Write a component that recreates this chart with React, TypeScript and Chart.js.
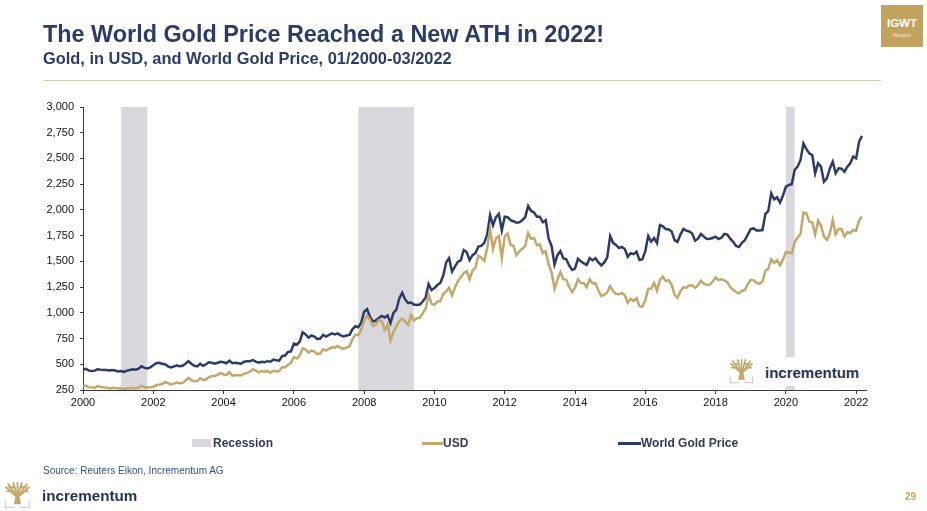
import React, { useEffect, useRef } from 'react';
import { Chart, registerables } from 'chart.js';

Chart.register(...registerables);

// ---------- DATA ----------
const START_YEAR = 2000;

// Gold price in USD, month-end, 01/2000 - 03/2022
const usd: number[] = [
  283, 293, 278, 274, 272, 288, 282, 277, 273, 264, 269, 272,
  265, 267, 258, 264, 267, 270, 266, 273, 293, 279, 275, 277,
  282, 296, 302, 308, 326, 318, 304, 312, 323, 316, 319, 342,
  367, 347, 334, 336, 364, 346, 354, 375, 385, 386, 398, 416,
  400, 396, 424, 388, 394, 394, 391, 408, 416, 428, 452, 438,
  422, 435, 427, 435, 417, 437, 430, 433, 473, 470, 495, 513,
  569, 556, 582, 655, 644, 614, 633, 623, 599, 604, 646, 632,
  650, 665, 662, 678, 660, 650, 665, 673, 743, 789, 783, 834,
  923, 971, 933, 871, 885, 930, 919, 834, 884, 730, 814, 870,
  919, 943, 916, 884, 976, 927, 948, 952, 996, 1040, 1180, 1088,
  1078, 1109, 1113, 1180, 1207, 1244, 1169, 1246, 1307, 1346, 1386, 1405,
  1327, 1410, 1439, 1556, 1536, 1505, 1628, 1813, 1620, 1722, 1746, 1531,
  1744, 1770, 1662, 1651, 1559, 1598, 1622, 1648, 1776, 1719, 1726, 1657,
  1664, 1580, 1598, 1469, 1393, 1234, 1323, 1396, 1327, 1323, 1253, 1202,
  1244, 1326, 1291, 1288, 1250, 1327, 1285, 1286, 1216, 1164, 1175, 1199,
  1260, 1213, 1183, 1180, 1191, 1172, 1098, 1135, 1115, 1142, 1065, 1060,
  1118, 1234, 1233, 1290, 1215, 1320, 1351, 1309, 1316, 1272, 1174, 1146,
  1211, 1248, 1245, 1266, 1268, 1242, 1269, 1311, 1283, 1271, 1275, 1303,
  1345, 1318, 1325, 1315, 1299, 1250, 1223, 1202, 1187, 1215, 1221, 1279,
  1321, 1316, 1292, 1283, 1305, 1409, 1427, 1520, 1485, 1511, 1463, 1517,
  1589, 1585, 1577, 1687, 1730, 1768, 1975, 1968, 1886, 1879, 1762, 1895,
  1848, 1743, 1708, 1769, 1903, 1763, 1814, 1814, 1743, 1783, 1775, 1806,
  1797, 1900, 1937,
];

// World Gold Price, 01/2000 - 03/2022
const worldGoldPrice: number[] = [
  445, 455, 438, 435, 438, 452, 448, 445, 445, 440, 445, 440,
  430, 435, 425, 438, 445, 452, 448, 458, 480, 465, 460, 470,
  490, 510, 515, 505, 500, 480, 470, 478, 490, 480, 485, 505,
  530, 505, 485, 480, 505, 485, 500, 520, 515, 505, 515, 525,
  520, 510, 535, 510, 515, 510, 505, 525, 530, 530, 540, 525,
  515, 525, 520, 530, 525, 545, 540, 535, 580, 585, 620, 625,
  700, 690, 720, 810, 790, 760, 780, 770, 745, 750, 785, 770,
  785, 800, 790, 800, 780, 770, 780, 785, 840, 870, 860, 905,
  1010, 1035, 960, 915, 925, 950, 970, 955, 975, 900, 1000, 1030,
  1140, 1195, 1130, 1095, 1100, 1080, 1075, 1080, 1110, 1150, 1280, 1220,
  1240, 1270, 1290, 1360, 1490, 1532, 1400, 1450, 1497, 1510, 1610, 1590,
  1513, 1560, 1580, 1643, 1650, 1680, 1760, 1950, 1850, 1930, 1960, 1800,
  1934, 1930, 1900, 1890, 1876, 1880, 1900, 1930, 2038, 1990, 1975, 1934,
  1934, 1880, 1900, 1720, 1650, 1470, 1560, 1600, 1530, 1520, 1460, 1416,
  1430, 1525, 1500, 1480, 1465, 1530, 1510, 1530, 1490, 1460, 1490, 1540,
  1746, 1680, 1660, 1630, 1640, 1620, 1545, 1580, 1570, 1594, 1513, 1520,
  1600, 1746, 1691, 1727, 1678, 1853, 1840, 1814, 1810, 1790, 1707, 1690,
  1760, 1814, 1798, 1790, 1770, 1701, 1720, 1766, 1740, 1717, 1720, 1727,
  1740, 1717, 1730, 1766, 1760, 1720, 1690, 1649, 1639, 1680, 1707, 1760,
  1814, 1820, 1800, 1800, 1804, 1960, 1990, 2161, 2103, 2122, 2070, 2140,
  2225, 2242, 2250, 2388, 2420, 2485, 2647, 2590, 2550, 2533, 2356, 2453,
  2420, 2274, 2306, 2400, 2469, 2356, 2404, 2400, 2371, 2420, 2453, 2518,
  2502, 2664, 2720,
];

const xTickYears: number[] = [2000, 2002, 2004, 2006, 2008, 2010, 2012, 2014, 2016, 2018, 2020, 2022];
const yTickValues: number[] = [250, 500, 750, 1000, 1250, 1500, 1750, 2000, 2250, 2500, 2750, 3000];

const recessionStart: string[] = ['2001-02', '2007-11', '2020-01'];
const recessionEnd: string[] = ['2001-11', '2009-06', '2020-04'];

// ---------- STYLE ----------
const NAVY = '#2b3c69';
const GOLD = '#c4a86b';
const RECESSION = '#d9d8dc';
const FONT = "'Liberation Sans', Arial, Helvetica, sans-serif";

const monthToYear = (s: string) => {
  const [y, m] = s.split('-').map(Number);
  return y + (m - 1) / 12;
};
const monthX = (i: number) => START_YEAR + i / 12;

const recessionPlugin = {
  id: 'recessionBands',
  beforeDraw(chart: any) {
    const { ctx, chartArea, scales } = chart;
    const x = scales.x;
    ctx.save();
    ctx.fillStyle = RECESSION;
    recessionStart.forEach((s, i) => {
      const x0 = x.getPixelForValue(monthToYear(s));
      const x1 = x.getPixelForValue(monthToYear(recessionEnd[i]));
      ctx.fillRect(x0, chartArea.top, x1 - x0, chartArea.bottom - chartArea.top);
    });
    ctx.restore();
  },
};

function Tree({ left, top, size }: { left: number; top: number; size: number }) {
  return (
    <svg
      width={size}
      height={size}
      viewBox="0 0 26 26"
      style={{ position: 'absolute', left, top }}
    >
      <g stroke={GOLD} strokeWidth={1.8} strokeLinecap="round" fill="none">
        <path d="M13 15 L2 5" />
        <path d="M13 15 L4 2" />
        <path d="M13 15 L9 1" />
        <path d="M13 15 L13 1" />
        <path d="M13 15 L17 1" />
        <path d="M13 15 L22 2" />
        <path d="M13 15 L24 5" />
        <path d="M3 9 L8 9" />
        <path d="M18 9 L23 9" />
        <path d="M5 5 L10 5" />
        <path d="M16 5 L21 5" />
      </g>
      <path d="M11.3 13 L14.7 13 L16.5 21.5 L9.5 21.5 Z" fill={GOLD} />
      <path d="M1.5 18 V24.5 H10.5 M24.5 18 V24.5 H15.5" stroke="#d2d2d2" strokeWidth={1.3} fill="none" />
    </svg>
  );
}

const abs = (style: React.CSSProperties): React.CSSProperties => ({ position: 'absolute', ...style });

export default function App() {
  const canvasRef = useRef<HTMLCanvasElement | null>(null);

  useEffect(() => {
    if (!canvasRef.current) return;
    const chart = new Chart(canvasRef.current, {
      type: 'line',
      data: {
        datasets: [
          {
            label: 'USD',
            data: usd.map((v, i) => ({ x: monthX(i), y: v })),
            borderColor: GOLD,
            backgroundColor: GOLD,
            borderWidth: 2.5,
            pointRadius: 0,
            tension: 0,
          },
          {
            label: 'World Gold Price',
            data: worldGoldPrice.map((v, i) => ({ x: monthX(i), y: v })),
            borderColor: NAVY,
            backgroundColor: NAVY,
            borderWidth: 2.5,
            pointRadius: 0,
            tension: 0,
          },
        ],
      },
      options: {
        animation: false,
        responsive: false,
        maintainAspectRatio: false,
        layout: { padding: { left: 33, right: 61, top: 107, bottom: 96 } },
        plugins: { legend: { display: false }, tooltip: { enabled: false } },
        scales: {
          x: {
            type: 'linear',
            min: 2000,
            max: 2022.28,
            afterBuildTicks: (s: any) => {
              s.ticks = xTickYears.map((v) => ({ value: v }));
            },
            afterFit: (s: any) => {
              s.height = 25;
            },
            grid: { drawOnChartArea: false, drawTicks: true, tickLength: 4, color: '#3a3a3a', lineWidth: 1 },
            border: { display: true, color: '#3a3a3a', width: 1 },
            ticks: {
              font: { family: FONT, size: 11 },
              color: '#111',
              padding: 2,
              maxRotation: 0,
              autoSkip: false,
              callback: (v: any) => String(v),
            },
          },
          y: {
            type: 'linear',
            min: 250,
            max: 3000,
            afterBuildTicks: (s: any) => {
              s.ticks = yTickValues.map((v) => ({ value: v }));
            },
            afterFit: (s: any) => {
              s.width = 50;
            },
            grid: { drawOnChartArea: false, drawTicks: true, tickLength: 3, color: '#3a3a3a', lineWidth: 1 },
            border: { display: true, color: '#3a3a3a', width: 1 },
            ticks: {
              font: { family: FONT, size: 11 },
              color: '#111',
              padding: 6,
              autoSkip: false,
              callback: (v: any) => Number(v).toLocaleString('en-US'),
            },
          },
        },
      },
      plugins: [recessionPlugin],
    });
    return () => chart.destroy();
  }, []);

  return (
    <div
      style={{
        position: 'absolute',
        left: 0,
        top: 0,
        width: 927,
        height: 511,
        background: '#fff',
        overflow: 'hidden',
        fontFamily: FONT,
      }}
    >
      <canvas ref={canvasRef} width={927} height={511} style={abs({ left: 0, top: 0, width: 927, height: 511 })} />

      {/* Title block */}
      <div style={abs({ left: 43, top: 23, fontSize: 23.4, lineHeight: '23px', fontWeight: 700, color: NAVY, whiteSpace: 'nowrap' })}>
        The World Gold Price Reached a New ATH in 2022!
      </div>
      <div style={abs({ left: 43, top: 50, fontSize: 16.4, lineHeight: '16px', fontWeight: 700, color: NAVY, whiteSpace: 'nowrap' })}>
        Gold, in USD, and World Gold Price, 01/2000-03/2022
      </div>
      <div style={abs({ left: 43, top: 80, width: 838, height: 1, background: '#d4cdb3' })} />

      {/* IGWT badge */}
      <div style={abs({ left: 881, top: 5, width: 42, height: 42, background: '#c1a35f' })}>
        <div style={abs({ left: 0, top: 13, width: 42, textAlign: 'center', fontSize: 11.5, lineHeight: '11.5px', fontWeight: 700, color: '#fff' })}>
          IGWT
        </div>
        <div style={abs({ left: 0, top: 27, width: 42, textAlign: 'center', fontSize: 6, lineHeight: '6px', color: '#f1e8d4' })}>
          Report
        </div>
      </div>

      {/* In-chart logo */}
      <div style={abs({ left: 726, top: 357, width: 140, height: 29, background: '#fff' })}>
        <Tree left={3} top={2} size={25} />
        <div style={abs({ left: 39, top: 8, fontSize: 15, lineHeight: '15px', fontWeight: 700, color: '#27325c', whiteSpace: 'nowrap' })}>
          incrementum
        </div>
      </div>

      {/* Legend */}
      <div style={abs({ left: 192, top: 439, width: 19, height: 8, background: RECESSION })} />
      <div style={abs({ left: 213, top: 437, fontSize: 12, lineHeight: '12px', fontWeight: 700, color: '#323a57', whiteSpace: 'nowrap' })}>
        Recession
      </div>
      <div style={abs({ left: 422, top: 442, width: 21, height: 3, background: GOLD })} />
      <div style={abs({ left: 443, top: 437, fontSize: 12, lineHeight: '12px', fontWeight: 700, color: '#323a57', whiteSpace: 'nowrap' })}>
        USD
      </div>
      <div style={abs({ left: 618, top: 442, width: 23, height: 3, background: NAVY })} />
      <div style={abs({ left: 641, top: 437, fontSize: 12, lineHeight: '12px', fontWeight: 700, color: '#323a57', whiteSpace: 'nowrap' })}>
        World Gold Price
      </div>

      {/* Source */}
      <div style={abs({ left: 43, top: 466, fontSize: 10, lineHeight: '10px', color: '#34508c', whiteSpace: 'nowrap' })}>
        Source: Reuters Eikon, Incrementum AG
      </div>

      {/* Footer logo */}
      <Tree left={4} top={482} size={27} />
      <div style={abs({ left: 42, top: 488, fontSize: 15.2, lineHeight: '16px', fontWeight: 700, color: '#27325c', whiteSpace: 'nowrap' })}>
        incrementum
      </div>
      <div style={abs({ left: 905, top: 492, fontSize: 10, lineHeight: '10px', fontWeight: 700, color: '#c9a55a' })}>
        29
      </div>
    </div>
  );
}
